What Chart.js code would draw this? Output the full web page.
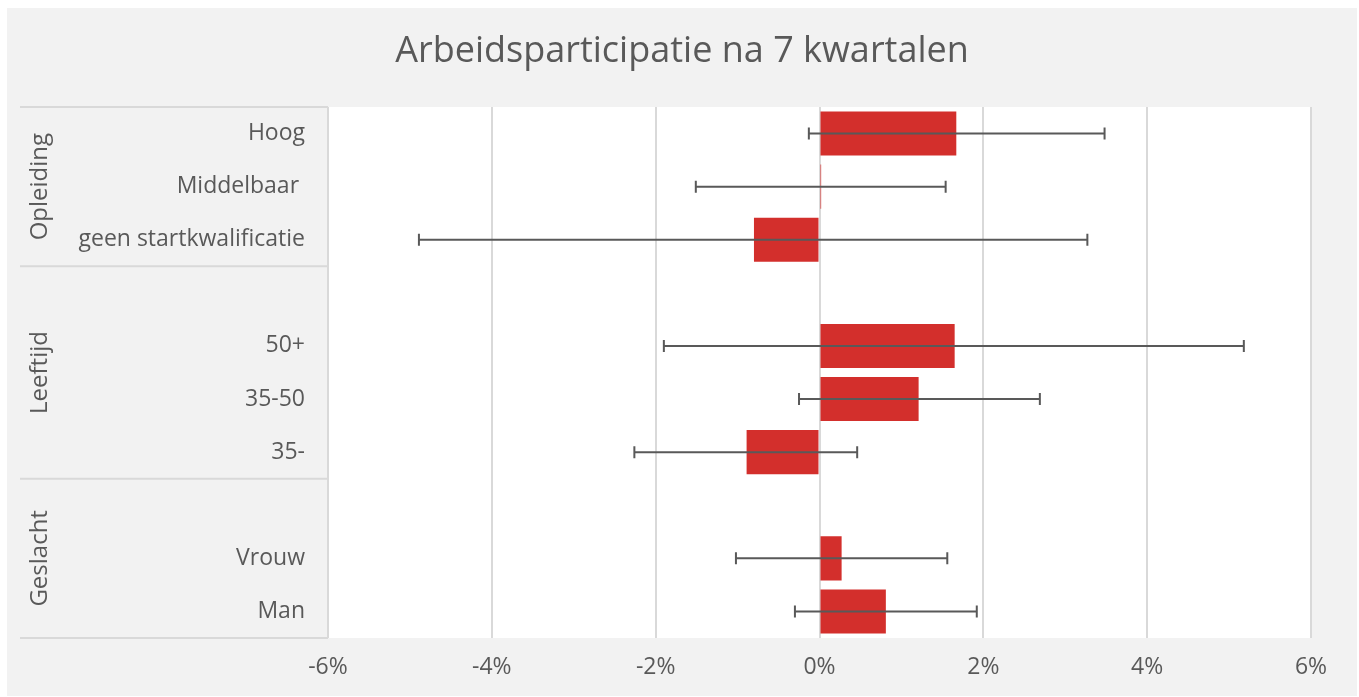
<!DOCTYPE html>
<html>
<head>
<meta charset="utf-8">
<script src="https://cdn.jsdelivr.net/npm/chart.js@4.4.1/dist/chart.umd.min.js"></script>
<style>
  html, body { margin: 0; padding: 0; background: #ffffff; }
  canvas { display: block; }
</style>
</head>
<body>
<canvas id="chart" width="1359" height="697"></canvas>
<script>
// Data
const categories = ['Hoog', 'Middelbaar ', 'geen startkwalificatie', '', '50+', '35-50', '35-', '', 'Vrouw', 'Man'];
const values = [1.67, 0.02, -0.80, null, 1.65, 1.21, -0.89, null, 0.27, 0.81];
const lows = [-0.13, -1.51, -4.89, null, -1.90, -0.25, -2.26, null, -1.02, -0.30];
const highs = [3.48, 1.54, 3.27, null, 5.18, 2.69, 0.46, null, 1.56, 1.92];
const groupNames = ['Opleiding', 'Leeftijd', 'Geslacht'];
const groupFirst = [0, 3, 7];
const groupLast = [2, 6, 9];
const chartTitle = 'Arbeidsparticipatie na 7 kwartalen';

const textColor = '#595959';
const lineColor = '#d9d9d9';
const fontFamily = "'Open Sans', 'Lato', sans-serif";

// Backgrounds: outer gray panel and white plot area
const backgroundPlugin = {
  id: 'backgrounds',
  beforeDraw(chart) {
    const ctx = chart.ctx;
    const a = chart.chartArea;
    ctx.save();
    ctx.fillStyle = '#ffffff';
    ctx.fillRect(0, 0, chart.width, chart.height);
    ctx.fillStyle = '#f2f2f2';
    ctx.fillRect(7, 8, chart.width - 9, chart.height - 9);
    ctx.fillStyle = '#ffffff';
    ctx.fillRect(a.left, a.top, a.right - a.left, a.bottom - a.top);
    ctx.restore();
  }
};

// Title centred over the whole gray panel
const titlePlugin = {
  id: 'panelTitle',
  afterDraw(chart) {
    const ctx = chart.ctx;
    ctx.save();
    ctx.fillStyle = textColor;
    ctx.font = '36px ' + fontFamily;
    ctx.textAlign = 'center';
    ctx.textBaseline = 'middle';
    ctx.fillText(chartTitle, 682, 52);
    ctx.restore();
  }
};

// Error bars drawn from lows / highs through the x scale
const errorBarPlugin = {
  id: 'errorBars',
  afterDatasetsDraw(chart) {
    const ctx = chart.ctx;
    const xs = chart.scales.x;
    const ys = chart.scales.y;
    ctx.save();
    ctx.strokeStyle = textColor;
    ctx.lineWidth = 2;
    for (let i = 0; i < categories.length; i++) {
      if (lows[i] == null) continue;
      const y = ys.getPixelForValue(i);
      const x1 = xs.getPixelForValue(lows[i]);
      const x2 = xs.getPixelForValue(highs[i]);
      ctx.beginPath();
      ctx.moveTo(x1, y);
      ctx.lineTo(x2, y);
      ctx.moveTo(x1, y - 6);
      ctx.lineTo(x1, y + 6);
      ctx.moveTo(x2, y - 6);
      ctx.lineTo(x2, y + 6);
      ctx.stroke();
    }
    ctx.restore();
  }
};

// Group labels and separators on the left
const groupPlugin = {
  id: 'groups',
  afterDraw(chart) {
    const ctx = chart.ctx;
    const ys = chart.scales.y;
    const a = chart.chartArea;
    const left = 20;
    const half = (ys.getPixelForValue(1) - ys.getPixelForValue(0)) / 2;
    ctx.save();
    ctx.strokeStyle = lineColor;
    ctx.lineWidth = 2;
    ctx.beginPath();
    ctx.moveTo(left, a.top);
    ctx.lineTo(a.left, a.top);
    groupLast.forEach(function(last) {
      const y = Math.min(ys.getPixelForValue(last) + half, a.bottom);
      ctx.moveTo(left, y);
      ctx.lineTo(a.left, y);
    });
    ctx.stroke();

    ctx.fillStyle = textColor;
    ctx.font = '24px ' + fontFamily;
    ctx.textAlign = 'center';
    ctx.textBaseline = 'middle';
    groupNames.forEach(function(name, g) {
      const top = ys.getPixelForValue(groupFirst[g]) - half;
      const bottom = ys.getPixelForValue(groupLast[g]) + half;
      ctx.save();
      ctx.translate(40, (top + bottom) / 2);
      ctx.rotate(-Math.PI / 2);
      ctx.fillText(name, 0, 0);
      ctx.restore();
    });
    ctx.restore();
  }
};

new Chart(document.getElementById('chart'), {
  type: 'bar',
  data: {
    labels: categories,
    datasets: [{
      data: values,
      backgroundColor: '#d32f2c',
      borderWidth: 0,
      barPercentage: 0.83,
      categoryPercentage: 1.0
    }]
  },
  options: {
    indexAxis: 'y',
    responsive: false,
    animation: false,
    layout: { padding: { left: 20, right: 48, top: 107, bottom: 0 } },
    plugins: {
      legend: { display: false },
      tooltip: { enabled: false },
      title: { display: false }
    },
    scales: {
      x: {
        min: -6,
        max: 6,
        afterFit(scale) { scale.height = 59; },
        ticks: {
          stepSize: 2,
          color: textColor,
          padding: 16,
          font: { family: fontFamily, size: 23 },
          callback: function(v) { return v + '%'; }
        },
        grid: { color: lineColor, lineWidth: 2, drawTicks: false },
        border: { display: false }
      },
      y: {
        afterFit(scale) { scale.width = 308; },
        ticks: {
          color: textColor,
          padding: 23,
          font: { family: fontFamily, size: 23 }
        },
        grid: { display: false, drawTicks: false },
        border: { display: false }
      }
    }
  },
  plugins: [backgroundPlugin, errorBarPlugin, groupPlugin, titlePlugin]
});
</script>
</body>
</html>
